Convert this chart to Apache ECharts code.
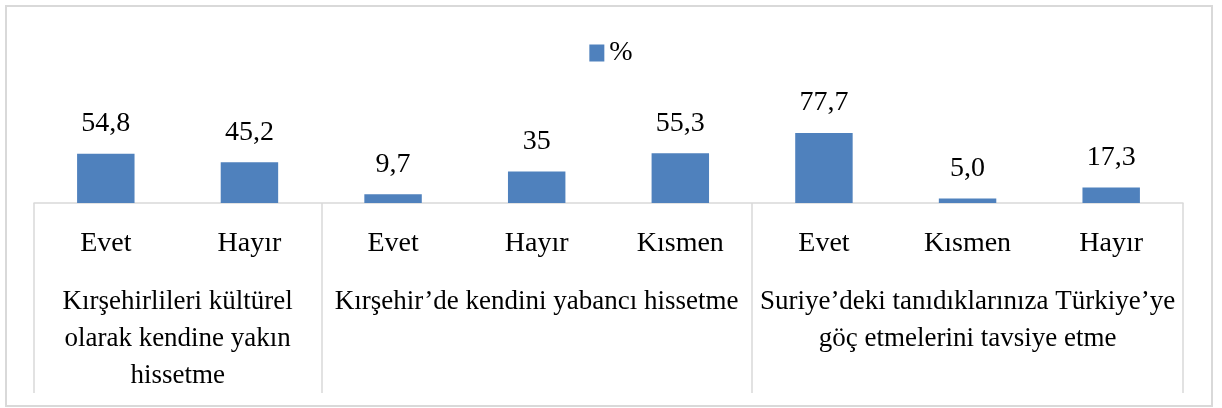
<!DOCTYPE html>
<html>
<head>
<meta charset="utf-8">
<script src="https://cdn.jsdelivr.net/npm/echarts@6/dist/echarts.min.js"></script>
<style>
  html, body { margin: 0; padding: 0; background: #fff; }
  #wrap { position: relative; width: 1222px; height: 408px; }
  #chart { position: absolute; left: 0; top: 0; width: 1222px; height: 408px; }
  #frame { position: absolute; left: 5px; top: 5px; width: 1208px; height: 402px; box-sizing: border-box; border: 2px solid #d9d9d9; pointer-events: none; }
</style>
</head>
<body>
<div id="wrap"><div id="chart"></div><div id="frame"></div></div>
<script>
// ---- data ----
const categories = ['Evet', 'Hayır', 'Evet', 'Hayır', 'Kısmen', 'Evet', 'Kısmen', 'Hayır'];
const values = [54.8, 45.2, 9.7, 35, 55.3, 77.7, 5.0, 17.3];
const valueLabels = ['54,8', '45,2', '9,7', '35', '55,3', '77,7', '5,0', '17,3'];
const groupNames = [
  'Kırşehirlileri kültürel\nolarak kendine yakın\nhissetme',
  'Kırşehir’de kendini yabancı hissetme',
  'Suriye’deki tanıdıklarınıza Türkiye’ye\ngöç etmelerini tavsiye etme'
];
const groupSizes = [2, 3, 3];
const seriesName = '%';

// group boundaries and centres (in category-band units)
const groupStarts = [];
const groupCenters = [];
let acc = 0;
groupSizes.forEach(function (s) { groupStarts.push(acc); groupCenters.push(acc + s / 2); acc += s; });

const FONT = "'Liberation Serif', 'Times New Roman', serif";
const FS = 28;
const chart = echarts.init(document.getElementById('chart'), null, { renderer: 'canvas' });
chart.setOption({
  animation: false,
  backgroundColor: '#ffffff',
  textStyle: { fontFamily: FONT },
  legend: {
    top: 34,
    left: 'center',
    itemWidth: 15,
    itemHeight: 17,
    icon: 'rect',
    textStyle: { fontFamily: FONT, fontSize: FS, color: '#000' },
    data: [seriesName]
  },
  grid: { left: 34, right: 39, top: 113, bottom: 205, containLabel: false },
  xAxis: [
    {
      type: 'category',
      data: categories,
      position: 'bottom',
      boundaryGap: true,
      axisLine: { onZero: false, lineStyle: { color: '#d9d9d9', width: 1.5 } },
      axisTick: {
        show: true,
        length: 190,
        lineStyle: { color: '#d9d9d9', width: 1.5 },
        interval: function (idx) { return groupStarts.indexOf(idx) >= 0; }
      },
      axisLabel: {
        interval: 0,
        margin: 26,
        fontFamily: FONT,
        fontSize: FS,
        lineHeight: 30,
        color: '#000'
      },
      splitLine: { show: false }
    },
    {
      type: 'value',
      position: 'bottom',
      min: 0,
      max: groupSizes.reduce(function (a, b) { return a + b; }, 0),
      interval: 0.5,
      axisLine: { show: false, onZero: false },
      axisTick: { show: false },
      splitLine: { show: false },
      axisLabel: {
        margin: 80,
        fontFamily: FONT,
        fontSize: 27,
        lineHeight: 37,
        color: '#000',
        showMinLabel: true,
        showMaxLabel: true,
        formatter: function (v) {
          const i = groupCenters.indexOf(v);
          return i >= 0 ? groupNames[i] : '';
        }
      }
    }
  ],
  yAxis: {
    type: 'value',
    min: 0,
    max: 100,
    show: false,
    splitLine: { show: false }
  },
  series: [
    {
      name: seriesName,
      type: 'bar',
      xAxisIndex: 0,
      data: values,
      barWidth: '40%',
      itemStyle: { color: '#4f81bd' },
      label: {
        show: true,
        position: 'top',
        distance: 16,
        fontFamily: FONT,
        fontSize: FS,
        color: '#000',
        formatter: function (p) { return valueLabels[p.dataIndex]; }
      }
    }
  ]
});
</script>
</body>
</html>
